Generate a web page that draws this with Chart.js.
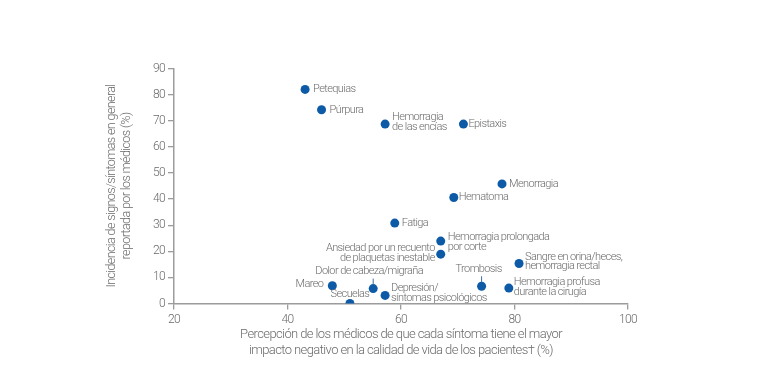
<!DOCTYPE html>
<html>
<head>
<meta charset="utf-8">
<script src="https://cdn.jsdelivr.net/npm/chart.js@4"></script>
<style>
  html, body { margin: 0; padding: 0; background: #fff; }
  #wrap { width: 763px; height: 370px; }
</style>
</head>
<body>
<div id="wrap"><canvas id="chart" width="763" height="370"></canvas></div>
<script>
// síntomas (cada etiqueta puede tener varias líneas)
const symptoms = [
    ['Petequias'],
    ['Púrpura'],
    ['Hemorragia', 'de las encías'],
    ['Epistaxis'],
    ['Menorragia'],
    ['Hematoma'],
    ['Fatiga'],
    ['Hemorragia prolongada', 'por corte'],
    ['Ansiedad por un recuento', 'de plaquetas inestable'],
    ['Sangre en orina/heces,', 'hemorragia rectal'],
    ['Trombosis'],
    ['Hemorragia profusa', 'durante la cirugía'],
    ['Mareo'],
    ['Dolor de cabeza/migraña'],
    ['Secuelas'],
    ['Depresión/', 'síntomas psicológicos']
];

// eje X: impacto negativo percibido (%)
const impactPct = [43.1, 46.0, 57.2, 71.0, 77.8, 69.3, 58.9, 67.0, 67.0, 80.8, 74.2, 79.0, 47.9, 55.1, 51.0, 57.2];
// eje Y: incidencia reportada (%)
const incidencePct = [82.0, 74.2, 68.7, 68.7, 45.8, 40.6, 30.8, 23.9, 18.9, 15.3, 6.6, 5.9, 6.8, 5.7, 0, 3.1];

const xTicks = [20, 40, 60, 80, 100];
const yTicks = [0, 10, 20, 30, 40, 50, 60, 70, 80, 90];

const xTitle = ['Percepción de los médicos de que cada síntoma tiene el mayor', 'impacto negativo en la calidad de vida de los pacientes† (%)'];
const yTitle = ['Incidencia de signos/síntomas en general', 'reportada por los médicos (%)'];

// colocación de las etiquetas respecto a cada punto
const labelPlacement = [
    { dx: 8, dy: 0, align: 'left' },
    { dx: 8, dy: 0, align: 'left' },
    { dx: 7, dy: -2, align: 'left' },
    { dx: 5, dy: 0, align: 'left' },
    { dx: 7, dy: 0, align: 'left' },
    { dx: 5, dy: 0, align: 'left' },
    { dx: 7, dy: 0, align: 'left' },
    { dx: 7, dy: 1, align: 'left' },
    { dx: -6, dy: -1, align: 'right' },
    { dx: 6, dy: -2, align: 'left' },
    { dx: -3, dy: -17, align: 'center', leader: true },
    { dx: 5, dy: -1, align: 'left' },
    { dx: -9, dy: -1, align: 'right' },
    { dx: -4, dy: -17, align: 'center', leader: true },
    { dx: 0, dy: -9, align: 'center' },
    { dx: 6, dy: -2, align: 'left' }
];

const FONT = 'Roboto, "Liberation Sans", sans-serif';
const AXIS_COLOR = '#9c9c9c';
const TEXT_COLOR = '#6b6b6b';
const DOT_COLOR = '#0d5aa7';

// espaciado de letras más estrecho, como el original
const tightText = {
    id: 'tightText',
    beforeDraw(chart) {
        chart.ctx.letterSpacing = '-0.6px';
    }
};

// etiquetas junto a los puntos
const pointLabels = {
    id: 'pointLabels',
    afterDatasetsDraw(chart) {
        const ctx = chart.ctx;
        const meta = chart.getDatasetMeta(0);
        ctx.save();
        ctx.letterSpacing = '-0.6px';
        ctx.font = '300 11px ' + FONT;
        ctx.fillStyle = TEXT_COLOR;
        ctx.textBaseline = 'middle';
        const lh = 9.5;
        meta.data.forEach((pt, i) => {
            const p = labelPlacement[i];
            const lines = symptoms[i];
            ctx.textAlign = p.align;
            const cx = pt.x + p.dx;
            const cy = pt.y + p.dy;
            const y0 = cy - (lines.length - 1) * lh / 2;
            lines.forEach((t, k) => ctx.fillText(t, cx, y0 + k * lh));
            if (p.leader) {
                ctx.strokeStyle = '#3d6fa8';
                ctx.lineWidth = 1;
                ctx.beginPath();
                ctx.moveTo(pt.x, pt.y - 10);
                ctx.lineTo(pt.x, pt.y - 4);
                ctx.stroke();
            }
        });
        ctx.restore();
    }
};

const points = impactPct.map((x, i) => ({ x: x, y: incidencePct[i] }));

new Chart(document.getElementById('chart'), {
    type: 'scatter',
    data: {
        datasets: [{
            data: points,
            backgroundColor: DOT_COLOR,
            borderColor: DOT_COLOR,
            pointRadius: 4.5,
            pointHoverRadius: 4.5,
            borderWidth: 0
        }]
    },
    options: {
        responsive: false,
        animation: false,
        events: [],
        layout: { padding: { left: 100, right: 135, top: 68.5, bottom: 11.6 } },
        plugins: {
            legend: { display: false },
            tooltip: { enabled: false }
        },
        scales: {
            x: {
                type: 'linear',
                min: 20,
                max: 100,
                afterBuildTicks: s => { s.ticks = xTicks.map(v => ({ value: v })); },
                afterFit: s => { s.height = 54.9; },
                grid: { drawOnChartArea: false, drawTicks: true, tickLength: 6, color: AXIS_COLOR, lineWidth: 1.3 },
                border: { color: AXIS_COLOR, width: 1.5 },
                ticks: { color: TEXT_COLOR, padding: 3, maxRotation: 0, font: { family: FONT, size: 12, weight: '300' } },
                title: {
                    display: true,
                    text: xTitle,
                    color: TEXT_COLOR,
                    padding: 0,
                    font: { family: FONT, size: 13, weight: '300', lineHeight: 1.2 }
                }
            },
            y: {
                type: 'linear',
                min: 0,
                max: 90,
                afterBuildTicks: s => { s.ticks = yTicks.map(v => ({ value: v })); },
                afterFit: s => { s.width = 74; },
                grid: { drawOnChartArea: false, drawTicks: true, tickLength: 6, color: AXIS_COLOR, lineWidth: 1.3 },
                border: { color: AXIS_COLOR, width: 1.5 },
                ticks: { color: TEXT_COLOR, padding: 3, font: { family: FONT, size: 12, weight: '300' } },
                title: {
                    display: true,
                    text: yTitle,
                    color: TEXT_COLOR,
                    padding: { top: 4.5, bottom: 0 },
                    font: { family: FONT, size: 12.5, weight: '300', lineHeight: 1.2 }
                }
            }
        }
    },
    plugins: [tightText, pointLabels]
});
</script>
</body>
</html>
